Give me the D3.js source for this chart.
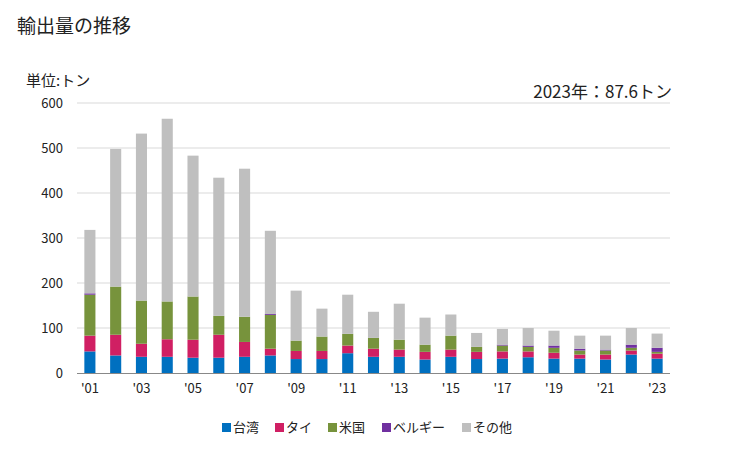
<!DOCTYPE html>
<html><head><meta charset="utf-8">
<script src="https://cdn.jsdelivr.net/npm/d3@7"></script>
<style>
body{margin:0;background:#fff;}
text{font-family:"Noto Sans CJK JP","Noto Sans",sans-serif;fill:#222;}
</style></head>
<body><svg id="c" width="729" height="450"></svg>
<script>
const years = ["2001","2002","2003","2004","2005","2006","2007","2008","2009","2010","2011","2012","2013","2014","2015","2016","2017","2018","2019","2020","2021","2022","2023"];
const seriesNames = ["台湾","タイ","米国","ベルギー","その他"];
const taiwan  = [48,39,36,36,34,34,36,39,31,31,44,36,36,30,36,31,32,35,32,32,30,41,32];
const thai    = [35,46,29,39,40,51,33,15,18,18,17,18,16,17,16,16,16,13,13,9,11,9,11];
const usa     = [91,107,96,84,96,42,56,75,23,32,26,24,22,16,31,11,13,10,11,9,9,6,4];
const belgium = [3,0,0,0,0,0,0,2,0,0,0,0,0,0,0,0,2,3,5,4,2,7,9];
const others  = [141,306,371,406,313,307,329,185,111,62,87,58,80,60,47,31,35,39,33,29,31,37,31.6];
const colors  = ["#0070C0","#D01F63","#77933C","#7030A0","#BFBFBF"];
const yTicks  = [0,100,200,300,400,500,600];
const xLabelYears = ["2001","2003","2005","2007","2009","2011","2013","2015","2017","2019","2021","2023"];

const svg = d3.select("#c");
const x = d3.scaleBand().domain(years).range([77,670]).paddingInner(0.57).paddingOuter(0.285);
const y = d3.scaleLinear().domain([0,600]).range([373,103]);

svg.append("text").attr("x",17).attr("y",33).attr("font-size",19).text("輸出量の推移");
svg.append("text").attr("x",26).attr("y",86).attr("font-size",15).text("単位:トン");
svg.append("text").attr("x",672).attr("y",98).attr("text-anchor","end").attr("font-size",17).text("2023年：87.6トン");

// grid
svg.append("g").selectAll("line").data(yTicks.filter(d=>d>0)).join("line")
  .attr("x1",77).attr("x2",670).attr("y1",d=>y(d)).attr("y2",d=>y(d))
  .attr("stroke","#d9d9d9").attr("stroke-width",1);

// y axis labels
const ya = svg.append("g").attr("transform","translate(77,0)")
  .call(d3.axisLeft(y).tickValues(yTicks).tickSize(0).tickPadding(14));
ya.select(".domain").remove();
ya.selectAll("text").attr("font-size",13).style("font-family","'Noto Sans CJK JP',sans-serif").attr("fill","#222");

// stacked bars
const table = years.map((yr,i)=>({year:yr,"台湾":taiwan[i],"タイ":thai[i],"米国":usa[i],"ベルギー":belgium[i],"その他":others[i]}));
const stack = d3.stack().keys(seriesNames)(table);
svg.append("g").selectAll("g").data(stack).join("g").attr("fill",(d,i)=>colors[i])
  .selectAll("rect").data(d=>d).join("rect")
  .attr("x",d=>x(d.data.year)).attr("width",x.bandwidth())
  .attr("y",d=>y(d[1])).attr("height",d=>Math.max(0,y(d[0])-y(d[1])));

// x axis
svg.append("line").attr("x1",77).attr("x2",670).attr("y1",373.5).attr("y2",373.5).attr("stroke","#888").attr("stroke-width",1);
const xa = svg.append("g").attr("transform","translate(0,373)")
  .call(d3.axisBottom(x).tickValues(xLabelYears).tickSize(0).tickPadding(11).tickFormat(d=>"'"+d.slice(2)));
xa.select(".domain").remove();
xa.selectAll("text").attr("font-size",13).style("font-family","'Noto Sans CJK JP',sans-serif").attr("fill","#222");

// legend
const legX = [222,275,328,382,462];
const lg = svg.append("g").selectAll("g").data(seriesNames).join("g")
  .attr("transform",(d,i)=>`translate(${legX[i]},423)`);
lg.append("rect").attr("width",9).attr("height",9).attr("fill",(d,i)=>colors[i]);
lg.append("text").attr("x",11).attr("y",9).attr("font-size",13).text(d=>d);
</script></body></html>
